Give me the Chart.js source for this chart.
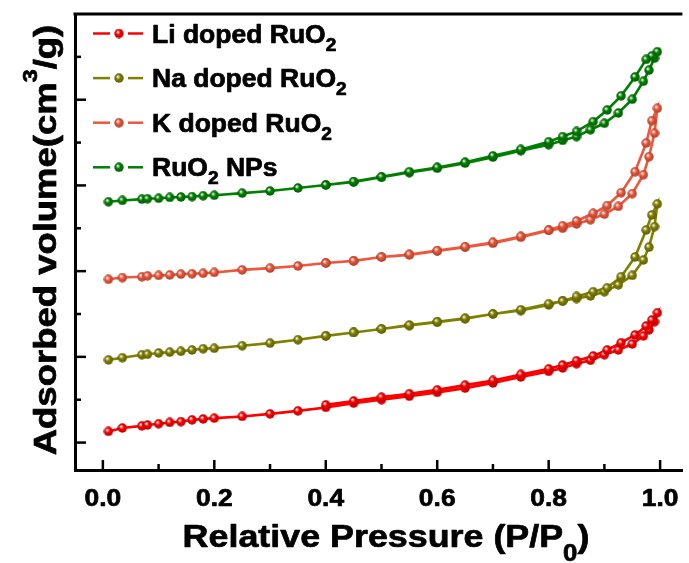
<!DOCTYPE html>
<html>
<head>
<meta charset="utf-8">
<script src="https://cdn.jsdelivr.net/npm/chart.js@4.4.0/dist/chart.umd.min.js"></script>
<style>
  html, body { margin: 0; padding: 0; background: #fff; }
  canvas { display: block; }
</style>
</head>
<body>
<canvas id="isotherm" width="689" height="563"></canvas>
<script>
// relative pressure grids (adsorption goes up, desorption comes back down)
const pressureAds = [0.01, 0.035, 0.07, 0.08, 0.10, 0.12, 0.14, 0.16, 0.18, 0.20, 0.25, 0.30, 0.35, 0.40, 0.45,
  0.50, 0.55, 0.60, 0.65, 0.70, 0.75, 0.80, 0.825, 0.85, 0.875, 0.90, 0.925, 0.95, 0.97, 0.98, 0.99, 0.995];
const pressureDes = [0.985, 0.975, 0.955, 0.93, 0.905, 0.88, 0.85, 0.825, 0.80, 0.75, 0.70, 0.65, 0.60, 0.55, 0.50, 0.45, 0.40];

// adsorbed volume (arbitrary offset units, y axis has no numbers)
const liAds = [2.6, 3.4, 3.9, 4.1, 4.4, 4.7, 4.9, 5.3, 5.5, 5.7, 6.1, 6.7, 7.4, 8.2, 9.2,
  10.0, 10.8, 11.7, 12.7, 13.9, 15.3, 16.6, 17.4, 18.4, 19.2, 20.5, 21.6, 23.0, 24.9, 26.3, 28.2, 30.3];
const liDes = [28.6, 27.2, 25.1, 23.3, 21.6, 20.2, 19.1, 18.1, 17.2, 15.9, 14.5, 13.4, 12.3, 11.4, 10.6, 9.7, 8.8];

const naAds = [19.3, 19.8, 20.5, 20.6, 20.9, 21.1, 21.3, 21.6, 21.9, 22.0, 22.6, 23.2, 24.0, 24.9, 25.7,
  26.5, 27.3, 28.1, 28.9, 30.0, 30.8, 32.1, 33.1, 33.6, 34.2, 35.2, 36.8, 39.0, 42.6, 45.6, 50.4, 55.7];
const naDes = [53.1, 49.6, 43.3, 38.7, 36.1, 35.2, 34.1, 33.0, 32.4, 31.0, 30.0, 29.0, 28.2, 27.4, 26.5, 25.7, 24.9];

const kAds = [38.1, 38.5, 38.7, 38.9, 39.0, 39.1, 39.3, 39.4, 39.5, 39.7, 40.3, 40.7, 41.2, 41.9, 42.4,
  43.3, 43.8, 44.7, 45.6, 46.5, 47.9, 49.5, 50.0, 51.0, 52.0, 53.3, 55.1, 58.1, 62.5, 66.7, 72.2, 78.0];
const kDes = [75.1, 69.9, 63.2, 58.3, 55.3, 53.5, 51.7, 50.6, 49.6, 48.1, 46.7, 45.7, 44.8, 43.9, 43.3, 42.4, 41.9];

const npAds = [56.2, 56.5, 56.8, 56.9, 57.0, 57.2, 57.3, 57.4, 57.6, 57.7, 58.2, 58.7, 59.4, 60.1, 60.8,
  61.9, 63.0, 64.0, 65.2, 66.6, 68.1, 69.5, 70.5, 71.4, 73.0, 74.5, 76.9, 80.1, 84.3, 86.9, 89.7, 91.2];
const npDes = [90.2, 89.4, 85.3, 80.9, 77.6, 74.9, 72.6, 71.4, 70.2, 68.4, 66.9, 65.4, 64.2, 63.2, 62.0, 60.9, 60.1];

const seriesLabels = ['Li doped RuO₂', 'Na doped RuO₂', 'K doped RuO₂', 'RuO₂ NPs'];
const seriesColors = ['#ff0000', '#808000', '#ee573b', '#008000'];

const xMajorTicks = [0, 0.2, 0.4, 0.6, 0.8, 1.0];
const xMinorTicks = [0.1, 0.3, 0.5, 0.7, 0.9];
const xTickLabels = ['0.0', '0.2', '0.4', '0.6', '0.8', '1.0'];
const yMajorTicks = [0, 20, 40, 60, 80];
const yMinorTicks = [10, 30, 50, 70, 90];

const xTitle = 'Relative Pressure (P/P₀)';
const yTitle = 'Adsorbed volume(cm³/g)';

const FONT = '"Liberation Sans", Arial, Helvetica, sans-serif';

function shade(hex, f) {
  const n = parseInt(hex.slice(1), 16);
  const r = Math.round(((n >> 16) & 255) * f), g = Math.round(((n >> 8) & 255) * f), b = Math.round((n & 255) * f);
  return `rgb(${r},${g},${b})`;
}

// little shaded ball used as marker
function ball(color) {
  const c = document.createElement('canvas');
  c.width = 10; c.height = 10;
  const g = c.getContext('2d');
  const grad = g.createRadialGradient(3.6, 3.4, 0.3, 5, 5, 5);
  grad.addColorStop(0, '#ffffff');
  grad.addColorStop(0.4, color);
  grad.addColorStop(1, shade(color, 0.7));
  g.fillStyle = grad;
  g.beginPath();
  g.arc(5, 5, 4.7, 0, Math.PI * 2);
  g.fill();
  return c;
}

function branch(ads, des) {
  const pts = pressureAds.map((p, i) => ({ x: p, y: ads[i] }));
  return pts.concat(pressureDes.map((p, i) => ({ x: p, y: des[i] })));
}

const subs = '₀₁₂₃₄₅₆₇₈₉';
const sups = { '³': '3', '²': '2' };

// split a label into normal / subscript / superscript runs
function toRuns(str, size, subDy, supDy) {
  const runs = [];
  for (const ch of str) {
    let run;
    if (subs.includes(ch)) run = { t: String(subs.indexOf(ch)), size: size * 0.72, dy: subDy, k: 'sub' };
    else if (sups[ch]) run = { t: sups[ch], size: size * 0.64, dy: supDy, k: 'sup' };
    else run = { t: ch, size: size, dy: 0, k: 'n' };
    const last = runs[runs.length - 1];
    if (last && last.k === run.k) last.t += run.t;
    else runs.push(run);
  }
  return runs;
}

function drawRuns(ctx, runs, x, y, sx, align) {
  let total = 0;
  runs.forEach(r => {
    ctx.font = `bold ${r.size}px ${FONT}`;
    r.w = ctx.measureText(r.t).width;
    total += r.w;
  });
  ctx.save();
  ctx.translate(x, y);
  ctx.scale(sx, 1);
  let pos = align === 'center' ? -total / 2 : 0;
  ctx.textBaseline = 'alphabetic';
  ctx.textAlign = 'left';
  ctx.lineWidth = 0.7;
  ctx.lineJoin = 'round';
  ctx.strokeStyle = ctx.fillStyle;
  runs.forEach(r => {
    ctx.font = `bold ${r.size}px ${FONT}`;
    ctx.fillText(r.t, pos, r.dy);
    ctx.strokeText(r.t, pos, r.dy);
    pos += r.w;
  });
  ctx.restore();
}

const decorations = {
  id: 'decorations',
  afterDraw(chart) {
    const { ctx, chartArea: a, scales: { x, y } } = chart;
    ctx.save();
    ctx.strokeStyle = '#000';
    ctx.fillStyle = '#000';
    ctx.lineCap = 'butt';

    // top frame line
    ctx.lineWidth = 3;
    ctx.beginPath();
    ctx.moveTo(a.left - 1.5, a.top);
    ctx.lineTo(a.right, a.top);
    ctx.stroke();

    // inward ticks
    ctx.lineWidth = 2.5;
    const tick = (x1, y1, x2, y2) => { ctx.beginPath(); ctx.moveTo(x1, y1); ctx.lineTo(x2, y2); ctx.stroke(); };
    xMajorTicks.forEach(v => { const px = x.getPixelForValue(v); tick(px, a.bottom, px, a.bottom - 10); });
    xMinorTicks.forEach(v => { const px = x.getPixelForValue(v); tick(px, a.bottom, px, a.bottom - 6); });
    yMajorTicks.forEach(v => { const py = y.getPixelForValue(v); tick(a.left, py, a.left + 11, py); });
    yMinorTicks.forEach(v => { const py = y.getPixelForValue(v); tick(a.left, py, a.left + 6, py); });

    // tick labels
    xMajorTicks.forEach((v, i) => {
      drawRuns(ctx, toRuns(xTickLabels[i], 24, 0, 0), x.getPixelForValue(v), a.bottom + 36, 1.1, 'center');
    });

    // axis titles
    drawRuns(ctx, toRuns(xTitle, 32, 14, 0), (a.left + 697) / 2, 547, 1.12, 'center');
    ctx.save();
    ctx.translate(56, 240);
    ctx.rotate(-Math.PI / 2);
    drawRuns(ctx, toRuns(yTitle, 32, 0, -19), 0, 0, 1.14, 'center');
    ctx.restore();

    // legend
    chart.data.datasets.forEach((ds, i) => {
      const cy = 33.5 + i * 44.6;
      ctx.strokeStyle = ds.borderColor;
      ctx.lineWidth = 2.5;
      tick(93, cy, 110, cy);
      tick(128, cy, 143, cy);
      const img = ds.pointStyle;
      ctx.drawImage(img, 119 - img.width / 2, cy - img.height / 2);
      ctx.fillStyle = '#000';
      drawRuns(ctx, toRuns(ds.label, 25, 8, 0), 152, cy + 9, 1.06, 'left');
    });
    ctx.restore();
  }
};

const datasets = [
  branch(liAds, liDes), branch(naAds, naDes), branch(kAds, kDes), branch(npAds, npDes)
].map((pts, i) => ({
  label: seriesLabels[i],
  data: pts,
  showLine: true,
  borderColor: seriesColors[i],
  backgroundColor: seriesColors[i],
  borderWidth: 2.6,
  pointStyle: ball(seriesColors[i]),
  tension: 0
}));

new Chart(document.getElementById('isotherm'), {
  type: 'scatter',
  data: { datasets },
  options: {
    responsive: false,
    animation: false,
    devicePixelRatio: 1,
    layout: { padding: { left: 75, top: 14, right: 0, bottom: 93 } },
    plugins: { legend: { display: false }, tooltip: { enabled: false } },
    scales: {
      x: {
        type: 'linear', min: -0.05, max: 1.04,
        ticks: { display: false },
        grid: { display: false, drawTicks: false },
        border: { display: true, color: '#000', width: 3 }
      },
      y: {
        type: 'linear', min: -6.4, max: 100,
        ticks: { display: false },
        grid: { display: false, drawTicks: false },
        border: { display: true, color: '#000', width: 3 }
      }
    }
  },
  plugins: [decorations]
});
</script>
</body>
</html>
